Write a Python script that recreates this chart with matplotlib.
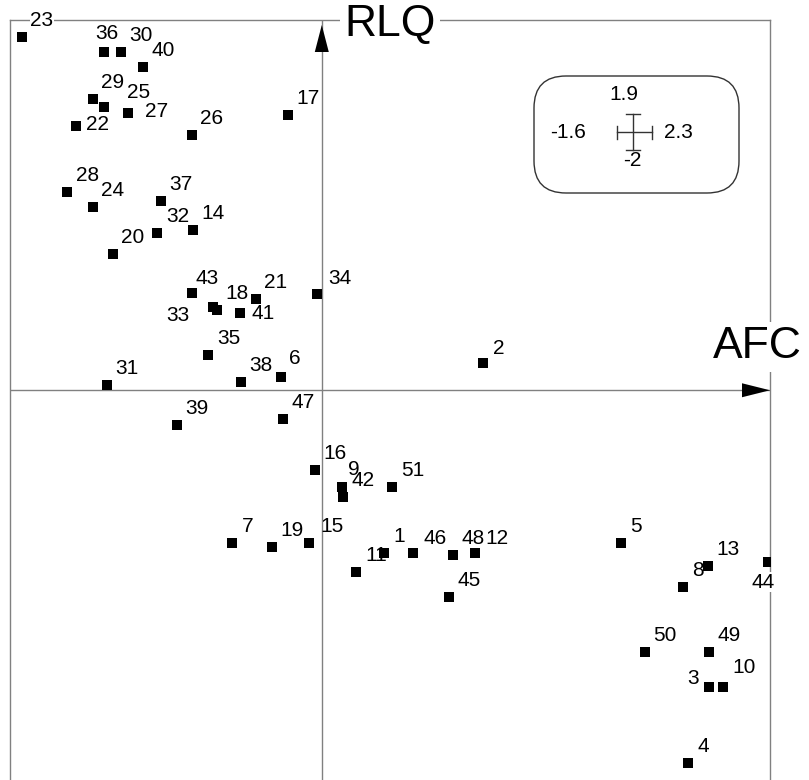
import numpy as np
import matplotlib
matplotlib.use('Agg')
import matplotlib.pyplot as plt
from matplotlib.patches import FancyBboxPatch, Polygon

plt.rcParams['font.family'] = ['Liberation Sans', 'DejaVu Sans']

# Site scores on the first two axes
labels = [str(i) for i in range(1, 52)]
x_coord = [0.321, 0.829, 1.989, 1.881, 1.537, -0.211, -0.459, 1.855, 0.102, 2.060,
           0.176, 0.786, 1.983, -0.659, -0.064, -0.034, -0.172, -0.539, -0.254, -1.073,
           -0.338, -1.263, -1.540, -1.176, -1.116, -0.668, -0.993, -1.306, -1.176, -1.032,
           -1.101, -0.844, -0.557, -0.023, -0.582, -1.116, -0.827, -0.413, -0.745, -0.916,
           -0.420, 0.110, -0.668, 2.291, 0.653, 0.468, -0.198, 0.673, 1.989, 1.660,
           0.362]
y_coord = [-0.837, 0.138, -1.521, -1.914, -0.785, 0.066, -0.785, -1.011, -0.498, -1.521,
           -0.933, -0.835, -0.902, 0.822, -0.785, -0.409, 1.411, 0.412, -0.806, 0.698,
           0.468, 1.356, 1.811, 0.942, 1.452, 1.308, 1.421, 1.019, 1.493, 1.737,
           0.025, 0.805, 0.427, 0.494, 0.179, 1.737, 0.971, 0.041, -0.180, 1.657,
           0.395, -0.546, 0.498, -0.880, -1.061, -0.835, -0.149, -0.845, -1.342, -1.342,
           -0.498]

# axis ranges shown in the scale box
x_min, x_max = -1.6, 2.3
y_min, y_max = -2.0, 1.9
x_name, y_name = 'AFC', 'RLQ'

# label placement (pixels, centre of text relative to the point, y down)
label_shift = {'3': (-16, -10), '22': (22, -3), '25': (34, -16), '27': (28, -3),
               '33': (-35, 7), '36': (3, -20), '41': (23, -1), '44': (-5, 19),
               '10': (21, -21), '6': (14, -20), '43': (16, -16), '2': (15, -16),
               '12': (22, -16), '46': (22, -16), '15': (23, -18), '34': (23, -17),
               '9': (12, -19)}
# labels sitting on the frame get a white backing
boxed = {'23', '44'}

W, H = 809, 780
LEFT, RIGHT, TOP = 10, 770, 20
frame_col = '#808080'

fig = plt.figure(figsize=(W / 100, H / 100), dpi=100)
ax = fig.add_axes([LEFT / W, 0, (RIGHT - LEFT) / W, (H - TOP) / H])
ax.set_xlim(x_min, x_max)
ax.set_ylim(y_min, y_max)
ax.set_xticks([])
ax.set_yticks([])
for side in ['left', 'top', 'right']:
    ax.spines[side].set_color(frame_col)
    ax.spines[side].set_linewidth(1.0)
ax.spines['bottom'].set_visible(False)

ax.axhline(0, color=frame_col, lw=1.0, zorder=1)
ax.axvline(0, color=frame_col, lw=1.0, zorder=1)

for lab, xv, yv in zip(labels, x_coord, y_coord):
    dx, dy = label_shift.get(lab, (10 + 5 * len(lab), -18))
    bb = dict(boxstyle='square,pad=0.02', fc='white', ec='none') if lab in boxed else None
    ax.annotate(lab, (xv, yv), xytext=(dx, -(dy + 7)), textcoords='offset pixels',
                ha='center', va='baseline', fontsize=15, zorder=3, bbox=bb)

ax.scatter(x_coord, y_coord, marker='s', s=6.5 ** 2, c='black', linewidths=0, zorder=4)

# overlay in pixel units for arrows, axis names and the scale box
ov = fig.add_axes([0, 0, 1, 1])
ov.set_xlim(0, W)
ov.set_ylim(H, 0)
ov.axis('off')
sx = (RIGHT - LEFT) / (x_max - x_min)
ox = LEFT + (0 - x_min) * sx
oy = TOP + (y_max - 0) * sx

ov.add_patch(Polygon([(RIGHT, oy), (RIGHT - 28, oy - 7), (RIGHT - 28, oy + 7)],
                     closed=True, fc='black', ec='none'))
ov.add_patch(Polygon([(ox, TOP + 5), (ox - 7, TOP + 32), (ox + 7, TOP + 32)],
                     closed=True, fc='black', ec='none'))

ov.text(390, 24, y_name, fontsize=32, ha='center', va='center',
        bbox=dict(boxstyle='square,pad=0.1', fc='white', ec='none'))
ov.text(757, 347, x_name, fontsize=32, ha='center', va='center',
        bbox=dict(boxstyle='square,pad=0.1', fc='white', ec='none'))

# scale box
ov.add_patch(FancyBboxPatch((534, 76), 205, 117, boxstyle='round,pad=0,rounding_size=32',
                            fc='white', ec='#333333', lw=1.0))
cx, cy = 633, 132
kw = dict(color='#333333', lw=1.0)
ov.plot([cx - 16, cx + 19], [cy, cy], **kw)
ov.plot([cx - 16, cx - 16], [cy - 6.5, cy + 6.5], **kw)
ov.plot([cx + 19, cx + 19], [cy - 6.5, cy + 6.5], **kw)
ov.plot([cx, cx], [cy - 18, cy + 18], **kw)
ov.plot([cx - 7, cx + 7], [cy - 18, cy - 18], **kw)
ov.plot([cx - 7, cx + 7], [cy + 18, cy + 18], **kw)
ov.text(624, 95, f'{y_max:g}', fontsize=15, ha='center', va='center')
ov.text(632, 161, f'{y_min:g}', fontsize=15, ha='center', va='center')
ov.text(568, 132, f'{x_min:g}', fontsize=15, ha='center', va='center')
ov.text(678, 132, f'{x_max:g}', fontsize=15, ha='center', va='center')

fig.savefig('out.png', dpi=100)
